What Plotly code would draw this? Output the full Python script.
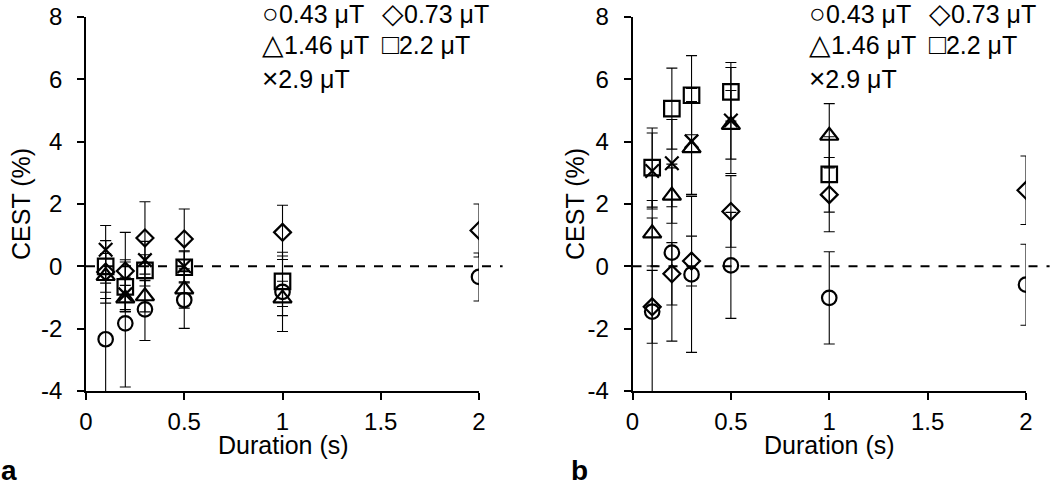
import plotly.graph_objects as go

# saturation powers (B1) and pulse durations
b1_labels = ["0.43 μT", "0.73 μT", "1.46 μT", "2.2 μT", "2.9 μT"]
legend_glyphs = ["○", "◇", "△", "□", "×"]
durations = [0.1, 0.2, 0.3, 0.5, 1, 2]
x_ticks = [0, 0.5, 1, 1.5, 2]
y_ticks = [-4, -2, 0, 2, 4, 6, 8]

# --- panel a: CEST (%) and error per B1
cest_a_043 = [-2.34, -1.83, -1.38, -1.08, -0.82, -0.34]
cest_a_073 = [-0.18, -0.15, 0.91, 0.88, 1.09, 1.15]
cest_a_146 = [-0.31, -1.03, -0.96, -0.74, -1.03]
cest_a_22 = [0.0, -0.66, -0.13, -0.03, -0.48]
cest_a_29 = [0.53, -0.90, 0.20, 0.0]
err_a_043 = [1.80, 2.04, 1.00, 0.91, 1.27, 0.77]
err_a_073 = [1.00, 1.24, 1.16, 0.96, 0.87, 0.85]
err_a_146 = [0.72, 0.42, 0.50, 0.60, 0.55]
err_a_22 = [0.83, 0.80, 0.50, 0.50, 0.81]
err_a_29 = [0.78, 0.55, 0.60, 0.50]

# --- panel b
cest_b_043 = [-1.45, 0.44, -0.26, 0.03, -1.01, -0.59]
cest_b_073 = [-1.30, -0.24, 0.17, 1.76, 2.30, 2.44]
cest_b_146 = [1.06, 2.27, 3.79, 4.54, 4.19]
cest_b_22 = [3.17, 5.06, 5.49, 5.60, 2.95]
cest_b_29 = [3.06, 3.31, 4.01, 4.68]
err_b_043 = [3.00, 2.84, 2.50, 1.70, 1.48, 1.30]
err_b_073 = [1.17, 1.00, 0.80, 1.15, 1.19, 1.10]
err_b_146 = [1.05, 0.89, 1.50, 1.10, 1.03]
err_b_22 = [1.27, 1.30, 1.27, 0.94, 1.21]
err_b_29 = [1.22, 1.40, 1.70, 1.70]

panels = [
    ([cest_a_043, cest_a_073, cest_a_146, cest_a_22, cest_a_29],
     [err_a_043, err_a_073, err_a_146, err_a_22, err_a_29]),
    ([cest_b_043, cest_b_073, cest_b_146, cest_b_22, cest_b_29],
     [err_b_043, err_b_073, err_b_146, err_b_22, err_b_29]),
]

symbols = ["circle-open", "diamond-open", "triangle-up-open", "square-open", "x-thin-open"]
sizes = [14.5, 13, 16, 15.5, 13.5]
FONT = "Liberation Sans, Arial, sans-serif"

fig = go.Figure()
for p, (ys, errs) in enumerate(panels):
    xa = "x" if p == 0 else "x2"
    ya = "y" if p == 0 else "y2"
    for i in range(len(b1_labels)):
        fig.add_trace(go.Scatter(
            x=durations[:len(ys[i])], y=ys[i], xaxis=xa, yaxis=ya,
            mode="markers", name=b1_labels[i], showlegend=False,
            marker=dict(symbol=symbols[i], size=sizes[i], color="black",
                        line=dict(width=2.2, color="black")),
            error_y=dict(type="data", array=errs[i], visible=True,
                         color="black", thickness=1.1, width=5.5),
        ))

axis_common = dict(showline=True, linecolor="black", linewidth=1.5,
                   ticks="outside", ticklen=7, tickwidth=1.5, tickcolor="black",
                   showgrid=False, zeroline=False, automargin=False,
                   tickfont=dict(family=FONT, size=24, color="black"))
x_common = dict(range=[0, 2], tickvals=x_ticks, ticktext=[f"{v:g}" for v in x_ticks],
                ticklabelstandoff=1, **axis_common)
y_common = dict(domain=[0, 1], range=[-4, 8], tickvals=y_ticks,
                ticktext=[str(v) for v in y_ticks], ticklabelstandoff=10, **axis_common)
fig.update_layout(
    width=1050, height=483,
    margin=dict(l=86, r=24, t=17, b=92, autoexpand=False),
    plot_bgcolor="white", paper_bgcolor="white",
    xaxis=dict(domain=[0, 0.4181], anchor="y", **x_common),
    yaxis=dict(anchor="x", **y_common),
    xaxis2=dict(domain=[0.5814, 1], anchor="y2", **x_common),
    yaxis2=dict(anchor="x2", **y_common),
)

# dashed zero line, running a bit past the last tick
for xr, yr in [("x domain", "y"), ("x2 domain", "y2")]:
    fig.add_shape(type="line", xref=xr, yref=yr, x0=0, x1=1.06, y0=0, y1=0,
                  line=dict(color="black", width=2, dash="dash"))

# text legend (symbol glyph + label) in each panel; first row sits just above y=8
legend_pos = [(0.89, 8, 4), (1.5, 8, 4), (0.89, 7.12, 0), (1.5, 7.12, 0), (0.89, 6.04, 0)]
for xr, yr in [("x", "y"), ("x2", "y2")]:
    for i, lab in enumerate(b1_labels):
        lx, ly, shift = legend_pos[i]
        fig.add_annotation(x=lx, y=ly, xref=xr, yref=yr, yshift=shift,
                           text='<span style="font-size:28px">' + legend_glyphs[i] + "</span>" + lab,
                           showarrow=False, xanchor="left", yanchor="middle", borderpad=0,
                           font=dict(family=FONT, size=25, color="black"))

def px_x(v):
    return (v - 86) / 940

def px_y(v):
    return (391 - v) / 374

for cx in [21, 575]:
    fig.add_annotation(x=px_x(cx), y=0.5, xref="paper", yref="paper", text="CEST (%)",
                       textangle=-90, showarrow=False, xanchor="center", yanchor="middle",
                       font=dict(family=FONT, size=25, color="black"))
for cx in [283, 829]:
    fig.add_annotation(x=px_x(cx), y=px_y(445), xref="paper", yref="paper",
                       text="Duration (s)", showarrow=False, xanchor="center",
                       yanchor="middle", font=dict(family=FONT, size=25, color="black"))
for lx, lab in [(0, "a"), (570, "b")]:
    fig.add_annotation(x=px_x(lx), y=px_y(487), xref="paper", yref="paper",
                       text="<b>" + lab + "</b>", showarrow=False, xanchor="left",
                       yanchor="bottom", borderpad=0,
                       font=dict(family=FONT, size=28, color="black"))

fig.write_html("out.html", config={"displayModeBar": False},
               post_script="document.body.style.margin='0px';")
